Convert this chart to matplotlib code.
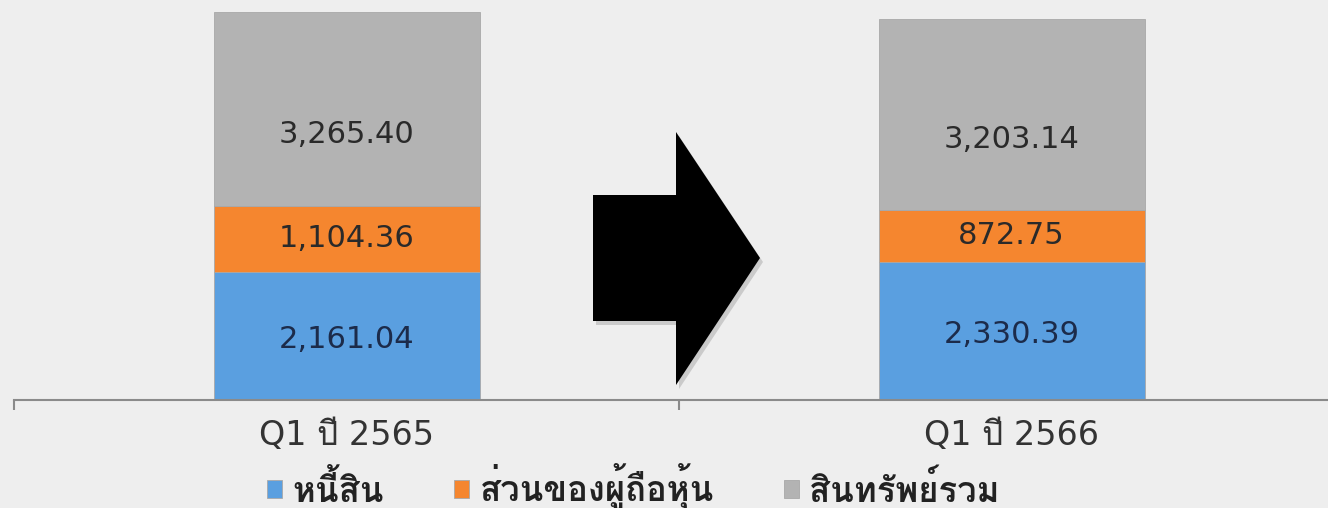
import matplotlib
matplotlib.use("Agg")
import matplotlib.pyplot as plt
from matplotlib.patches import Polygon

categories = ["Q1 ปี 2565", "Q1 ปี 2566"]
liabilities = [2161.04, 2330.39]
equity = [1104.36, 872.75]
total_assets = [3265.40, 3203.14]
series_names = ["หนี้สิน", "ส่วนของผู้ถือหุ้น", "สินทรัพย์รวม"]
colors = ["#5a9fe0", "#f5862f", "#b3b3b3"]
label_colors = ["#1c2b4a", "#2a2a2a", "#2a2a2a"]

plt.rcParams["font.family"] = ["DejaVu Sans", "Loma"]

W, H = 1328, 508
fig = plt.figure(figsize=(W / 100, H / 100), dpi=100, facecolor="#eeeeee")
ax = fig.add_axes([14 / W, (H - 400) / H, 1330 / W, 388 / H])
ax.set_facecolor("none")

x = range(len(categories))
bottoms = [0, 0]
for vals, c, lc, frac, name in zip([liabilities, equity, total_assets], colors, label_colors,
                                   [0.47, 0.5, 0.37], series_names):
    ax.bar(x, vals, 0.4, bottom=bottoms, color=c, edgecolor="#a8a8a8", linewidth=0.6, label=name)
    for i, v in enumerate(vals):
        ax.text(i, bottoms[i] + v * frac, f"{v:,.2f}", ha="center", va="center",
                fontsize=22, color=lc)
    bottoms = [b + v for b, v in zip(bottoms, vals)]

ax.set_xlim(-0.5, 1.5)
ax.set_ylim(0, 6530)
for s in ["top", "right", "left"]:
    ax.spines[s].set_visible(False)
ax.spines["bottom"].set_color("#8a8a8a")
ax.spines["bottom"].set_linewidth(1.5)
ax.set_yticks([])
ax.set_xticks([-0.5, 0.5, 1.5])
ax.set_xticklabels([])
ax.tick_params(axis="x", length=7, width=1.5, color="#8a8a8a")
for i, c in enumerate(categories):
    ax.text(i, -0.05, c, transform=ax.get_xaxis_transform(), ha="center", va="top",
            fontsize=24, color="#333333")

# arrow between the bars
pts = [(593, 195), (676, 195), (676, 132), (760, 258), (676, 385), (676, 321), (593, 321)]
shadow = [((px + 3) / W, 1 - (py + 4) / H) for px, py in pts]
fig.patches.append(Polygon(shadow, closed=True, transform=fig.transFigure,
                           facecolor="#000000", alpha=0.15, edgecolor="none"))
fig.patches.append(Polygon([(px / W, 1 - py / H) for px, py in pts], closed=True,
                           transform=fig.transFigure, facecolor="black", edgecolor="none"))

leg = fig.legend(loc="center", bbox_to_anchor=(0.477, 1 - 487 / H), ncol=3, frameon=False,
                 handlelength=0.45, handleheight=0.45, handletextpad=0.3, columnspacing=2.0,
                 prop={"family": "Loma", "weight": "bold", "size": 25})
for t in leg.get_texts():
    t.set_color("#222222")

fig.savefig("out.png", dpi=100, facecolor=fig.get_facecolor())
